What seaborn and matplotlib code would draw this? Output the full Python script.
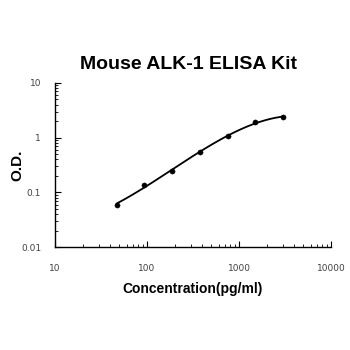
import numpy as np
import matplotlib
matplotlib.use("Agg")
import matplotlib.pyplot as plt
import seaborn as sns
from matplotlib.ticker import LogLocator, FixedLocator, NullFormatter

conc = [46.875, 93.75, 187.5, 375, 750, 1500, 3000]
od = [0.060, 0.138, 0.243, 0.540, 1.07, 1.95, 2.36]
x_ticks = [10, 100, 1000, 10000]
x_tick_labels = ["10", "100", "1000", "10000"]
y_ticks = [0.01, 0.1, 1, 10]
y_tick_labels = ["0.01", "0.1", "1", "10"]

sns.set_style("white")
plt.rcParams['font.family'] = ['Liberation Sans', 'DejaVu Sans']
plt.rcParams['text.color'] = 'black'
plt.rcParams['axes.labelcolor'] = 'black'

fig = plt.figure(figsize=(3.5, 3.5), dpi=100)
ax = fig.add_axes([0.157, 0.294, 0.789, 0.469])

# smooth fit curve in log-log space
lx = np.log10(conc)
ly = np.log10(od)
coef = np.polyfit(lx, ly, 3)
xs = np.linspace(lx.min(), lx.max(), 200)
ys = np.polyval(coef, xs)
sns.lineplot(x=10**xs, y=10**ys, ax=ax, color="black", linewidth=1.3)
sns.scatterplot(x=conc, y=od, ax=ax, color="black", s=14, edgecolor="black", zorder=3)

ax.set_xscale("log")
ax.set_yscale("log")
ax.set_xlim(10, 10000)
ax.set_ylim(0.01, 10)
ax.xaxis.set_major_locator(FixedLocator(x_ticks))
ax.set_xticklabels(x_tick_labels, family="DejaVu Sans")
ax.yaxis.set_major_locator(FixedLocator(y_ticks))
ax.set_yticklabels(y_tick_labels, family="DejaVu Sans")
ax.xaxis.set_minor_locator(LogLocator(base=10, subs=np.arange(2, 10)))
ax.yaxis.set_minor_locator(LogLocator(base=10, subs=np.arange(2, 10)))
ax.xaxis.set_minor_formatter(NullFormatter())
ax.yaxis.set_minor_formatter(NullFormatter())

for s in ["top", "right"]:
    ax.spines[s].set_visible(False)
for s in ["left", "bottom"]:
    ax.spines[s].set_color("black")
    ax.spines[s].set_linewidth(1.0)

ax.tick_params(axis="x", which="both", bottom=True, top=False)
ax.tick_params(axis="y", which="both", left=True, right=False)
ax.tick_params(axis="both", which="major", direction="in", length=4, width=0.8,
               color="black", labelsize=6.5, labelcolor="#404040")
ax.tick_params(axis="x", which="major", pad=12)
ax.tick_params(axis="y", which="major", pad=10)
ax.tick_params(axis="both", which="minor", direction="in", length=2.5, width=0.6,
               color="black")

ax.set_xlabel("Concentration(pg/ml)", fontsize=10, fontweight="bold", color="black")
ax.xaxis.set_label_coords(0.5, -0.21)
ax.set_ylabel("O.D.", fontsize=11, fontweight="bold", color="black")
ax.yaxis.set_label_coords(-0.109, 0.5)
fig.text(0.54, 0.817, "Mouse ALK-1 ELISA Kit", ha="center", va="center",
         fontsize=14, fontweight="bold", color="black")

fig.savefig("out.png", dpi=100, facecolor="white")
